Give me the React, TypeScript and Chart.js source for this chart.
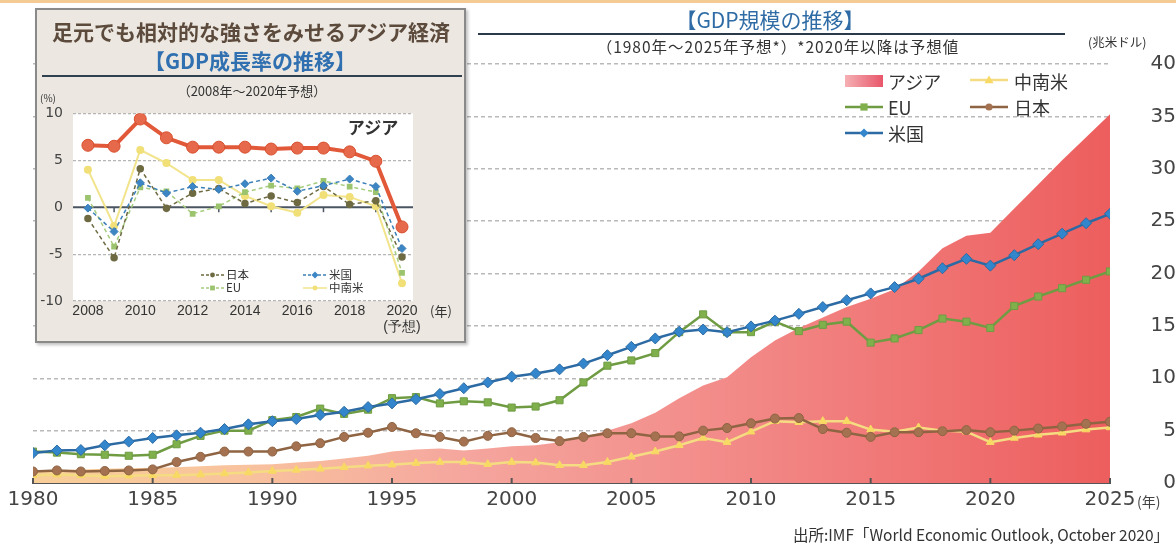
import React, { useEffect, useRef } from 'react';
import { Chart, registerables } from 'chart.js';

Chart.register(...registerables);

// ---------- Main chart data (trillion USD) ----------
const YEARS = [
  1980, 1981, 1982, 1983, 1984, 1985, 1986, 1987, 1988, 1989,
  1990, 1991, 1992, 1993, 1994, 1995, 1996, 1997, 1998, 1999,
  2000, 2001, 2002, 2003, 2004, 2005, 2006, 2007, 2008, 2009,
  2010, 2011, 2012, 2013, 2014, 2015, 2016, 2017, 2018, 2019,
  2020, 2021, 2022, 2023, 2024, 2025,
];
const ASIA_GDP = [
  1.2, 1.25, 1.3, 1.35, 1.4, 1.45, 1.5, 1.6, 1.7, 1.75,
  1.8, 1.95, 2.1, 2.35, 2.6, 3.0, 3.2, 3.3, 3.1, 3.3,
  3.5, 3.6, 3.9, 4.4, 5.0, 5.7, 6.7, 8.1, 9.3, 10.1,
  12.0, 13.6, 14.8, 15.8, 16.8, 17.6, 18.5, 20.2, 22.4, 23.6,
  23.9, 26.2, 28.5, 30.8, 33.0, 35.2,
];
const US_GDP = [
  2.86, 3.1, 3.15, 3.6, 3.95, 4.3, 4.55, 4.8, 5.15, 5.6,
  5.9, 6.1, 6.5, 6.8, 7.25, 7.6, 8.0, 8.5, 9.05, 9.6,
  10.15, 10.45, 10.85, 11.4, 12.2, 13.0, 13.8, 14.45, 14.65, 14.4,
  14.95, 15.5, 16.15, 16.8, 17.45, 18.1, 18.7, 19.5, 20.5, 21.4,
  20.75, 21.75, 22.8, 23.8, 24.8, 25.7,
];
const EU_GDP = [
  3.0, 2.9, 2.75, 2.7, 2.6, 2.7, 3.7, 4.5, 5.0, 5.0,
  6.0, 6.3, 7.1, 6.6, 7.0, 8.1, 8.2, 7.6, 7.8, 7.7,
  7.2, 7.3, 7.9, 9.6, 11.2, 11.7, 12.4, 14.4, 16.1, 14.4,
  14.4, 15.4, 14.5, 15.1, 15.4, 13.4, 13.8, 14.6, 15.7, 15.4,
  14.8, 16.9, 17.8, 18.6, 19.4, 20.2,
];
const JAPAN_GDP = [
  1.1, 1.2, 1.1, 1.15, 1.2, 1.3, 2.0, 2.5, 3.0, 3.0,
  3.0, 3.5, 3.8, 4.4, 4.8, 5.35, 4.75, 4.4, 3.95, 4.5,
  4.85, 4.3, 4.0, 4.4, 4.75, 4.75, 4.45, 4.45, 5.0, 5.25,
  5.7, 6.15, 6.2, 5.15, 4.8, 4.4, 4.85, 4.85, 4.95, 5.05,
  4.85, 5.0, 5.2, 5.4, 5.65, 5.85,
];
const LATAM_GDP = [
  0.75, 0.8, 0.75, 0.65, 0.7, 0.75, 0.75, 0.8, 0.9, 1.0,
  1.15, 1.25, 1.35, 1.5, 1.65, 1.75, 1.9, 2.0, 2.0, 1.8,
  2.0, 1.95, 1.7, 1.7, 2.0, 2.5, 3.0, 3.6, 4.3, 3.9,
  4.9, 5.9, 5.8, 5.9, 5.9, 5.1, 4.9, 5.3, 5.0, 4.9,
  3.9, 4.3, 4.6, 4.8, 5.1, 5.3,
];
const MAIN_X_MIN = 1980;
const MAIN_X_MAX = 2025;
const MAIN_X_STEP = 5;
const MAIN_Y_MIN = 0;
const MAIN_Y_MAX = 40;
const MAIN_Y_STEP = 5;

// ---------- Inset chart data (growth %, 2008-2020) ----------
const GROWTH_YEARS = [2008, 2009, 2010, 2011, 2012, 2013, 2014, 2015, 2016, 2017, 2018, 2019, 2020];
const ASIA_GROWTH = [6.6, 6.5, 9.4, 7.4, 6.4, 6.4, 6.4, 6.2, 6.3, 6.3, 5.9, 4.9, -2.1];
const US_GROWTH = [-0.1, -2.6, 2.6, 1.5, 2.2, 1.9, 2.5, 3.1, 1.7, 2.3, 3.0, 2.2, -4.4];
const JAPAN_GROWTH = [-1.2, -5.4, 4.1, -0.1, 1.5, 2.0, 0.4, 1.2, 0.5, 2.2, 0.3, 0.7, -5.3];
const EU_GROWTH = [1.0, -4.2, 2.1, 1.7, -0.7, 0.1, 1.6, 2.3, 2.0, 2.8, 2.2, 1.6, -7.0];
const LATAM_GROWTH = [4.0, -2.0, 6.1, 4.7, 2.9, 2.9, 1.2, 0.1, -0.6, 1.3, 1.1, 0.1, -8.1];
const GROWTH_TICKS = [2008, 2010, 2012, 2014, 2016, 2018, 2020];
const GROWTH_MINOR_TICKS = [2009, 2011, 2013, 2015, 2017, 2019];
const GROWTH_Y_MIN = -10;
const GROWTH_Y_MAX = 10;
const GROWTH_Y_STEP = 5;

const pts = (xs: number[], ys: number[]) => xs.map((x, i) => ({ x, y: ys[i] }));

const C = {
  us: '#2c6aa3',
  usPt: '#3486cc',
  eu: '#6f9c43',
  euPt: '#7fb04c',
  jp: '#8f6443',
  jpPt: '#a47250',
  la: '#f5dc82',
  laPt: '#f7d964',
};

type TxtProps = {
  x: number; y: number; size: number; color?: string; weight?: number;
  anchor?: 'left' | 'center' | 'right'; family?: string; children: React.ReactNode; ls?: number;
};
const Txt = ({ x, y, size, color = '#333', weight = 400, anchor = 'left', family, children, ls }: TxtProps) => (
  <div
    style={{
      position: 'absolute', left: x, top: y,
      transform: `translate(${anchor === 'center' ? '-50%' : anchor === 'right' ? '-100%' : '0'}, -50%)`,
      fontSize: size, color, fontWeight: weight, whiteSpace: 'nowrap', lineHeight: 1,
      fontFamily: family || "'Noto Sans CJK JP', 'Noto Sans', sans-serif",
      letterSpacing: ls, zIndex: 5,
    }}
  >
    {children}
  </div>
);

type Marker = 'diamond' | 'square' | 'circle' | 'triangle';
const MarkerShape = ({ m, cx, cy, r, fill }: { m: Marker; cx: number; cy: number; r: number; fill: string }) => {
  if (m === 'diamond') return <polygon points={`${cx},${cy - r} ${cx + r},${cy} ${cx},${cy + r} ${cx - r},${cy}`} fill={fill} />;
  if (m === 'square') return <rect x={cx - r * 0.8} y={cy - r * 0.8} width={r * 1.6} height={r * 1.6} fill={fill} />;
  if (m === 'triangle') return <polygon points={`${cx},${cy - r} ${cx + r},${cy + r * 0.7} ${cx - r},${cy + r * 0.7}`} fill={fill} />;
  return <circle cx={cx} cy={cy} r={r * 0.8} fill={fill} />;
};

const LineSwatch = ({ x, y, w, color, m, mColor, r = 4.5, dash, lw = 2.5 }:
  { x: number; y: number; w: number; color: string; m: Marker; mColor: string; r?: number; dash?: string; lw?: number }) => (
  <svg style={{ position: 'absolute', left: x, top: y - 7, zIndex: 5 }} width={w} height={14}>
    <line x1={0} y1={7} x2={w} y2={7} stroke={color} strokeWidth={lw} strokeDasharray={dash} />
    <MarkerShape m={m} cx={w / 2} cy={7} r={r} fill={mColor} />
  </svg>
);

export default function App() {
  const mainRef = useRef<HTMLCanvasElement>(null);
  const insetRef = useRef<HTMLCanvasElement>(null);

  useEffect(() => {
    const axisFont = { family: "'DejaVu Sans', sans-serif", size: 20 };

    const xTickMarks = {
      id: 'xTickMarks',
      afterDatasetsDraw(chart: any) {
        const { ctx, scales } = chart;
        const xs = scales.x;
        const bottom = chart.chartArea.bottom;
        ctx.save();
        ctx.strokeStyle = '#555';
        ctx.lineWidth = 2;
        xs.ticks.forEach((t: any) => {
          const px = xs.getPixelForValue(t.value);
          ctx.beginPath();
          ctx.moveTo(px, bottom);
          ctx.lineTo(px, bottom - 5);
          ctx.stroke();
        });
        ctx.restore();
      },
    };

    const main = new Chart(mainRef.current!, {
      type: 'line',
      data: {
        datasets: [
          {
            label: '米国', data: pts(YEARS, US_GDP), borderColor: C.us, borderWidth: 2.5,
            pointStyle: 'rectRot', pointRadius: 5.5, pointBackgroundColor: C.usPt, pointBorderColor: C.us, pointBorderWidth: 1,
          },
          {
            label: 'EU', data: pts(YEARS, EU_GDP), borderColor: C.eu, borderWidth: 2.5,
            pointStyle: 'rect', pointRadius: 5, pointBackgroundColor: C.euPt, pointBorderColor: C.eu, pointBorderWidth: 1,
          },
          {
            label: '日本', data: pts(YEARS, JAPAN_GDP), borderColor: C.jp, borderWidth: 2.5,
            pointStyle: 'circle', pointRadius: 4.5, pointBackgroundColor: C.jpPt, pointBorderColor: C.jp, pointBorderWidth: 1,
          },
          {
            label: '中南米', data: pts(YEARS, LATAM_GDP), borderColor: C.la, borderWidth: 2.5,
            pointStyle: 'triangle', pointRadius: 4.5, pointBackgroundColor: C.laPt, pointBorderColor: C.laPt, pointBorderWidth: 1,
          },
          {
            label: 'アジア', data: pts(YEARS, ASIA_GDP), borderWidth: 0, pointRadius: 0, fill: 'origin',
            backgroundColor: (c: any) => {
              const { ctx, chartArea } = c.chart;
              if (!chartArea) return '#f28a85';
              const g = ctx.createLinearGradient(chartArea.left, 0, chartArea.right, 0);
              g.addColorStop(0, '#f9cf98');
              g.addColorStop(0.2, '#f8c29e');
              g.addColorStop(0.4, '#f5a69e');
              g.addColorStop(0.65, '#f28a88');
              g.addColorStop(1, '#ed5e5e');
              return g;
            },
          },
        ],
      },
      options: {
        responsive: false,
        animation: false,
        devicePixelRatio: 1,
        layout: { padding: { left: 33, top: 64, right: 0, bottom: 0 } },
        plugins: { legend: { display: false }, tooltip: { enabled: false } },
        elements: { line: { tension: 0 } },
        scales: {
          x: {
            type: 'linear', min: MAIN_X_MIN, max: MAIN_X_MAX,
            afterFit: (s: any) => { s.height = 64; },
            ticks: {
              stepSize: MAIN_X_STEP, autoSkip: false, maxRotation: 0, padding: 5,
              color: '#444', font: axisFont, callback: (v: any) => String(v),
            },
            grid: { display: false, drawTicks: false },
            border: { display: true, color: '#555', width: 2 },
          },
          y: {
            position: 'right', min: MAIN_Y_MIN, max: MAIN_Y_MAX,
            afterFit: (s: any) => { s.width = 66; },
            ticks: {
              stepSize: MAIN_Y_STEP, crossAlign: 'far', padding: 22,
              color: '#444', font: axisFont, callback: (v: any) => String(v),
            },
            grid: {
              drawTicks: false, lineWidth: 1.5,
              color: (c: any) => (c.tick && c.tick.value === 0 ? 'rgba(0,0,0,0)' : '#b9b9b9'),
            },
            border: { display: false, dash: [4, 3] },
          },
        },
      },
      plugins: [xTickMarks],
    } as any);

    const insetPlugin = {
      id: 'insetDecor',
      beforeDraw(chart: any) {
        const { ctx, chartArea } = chart;
        ctx.save();
        ctx.fillStyle = '#ffffff';
        ctx.fillRect(chartArea.left, chartArea.top, chartArea.right - chartArea.left, chartArea.bottom - chartArea.top);
        ctx.restore();
      },
      beforeDatasetsDraw(chart: any) {
        const { ctx, chartArea, scales } = chart;
        const y0 = scales.y.getPixelForValue(0);
        ctx.save();
        ctx.strokeStyle = '#4a5561';
        ctx.lineWidth = 2;
        ctx.beginPath();
        ctx.moveTo(chartArea.left, y0);
        ctx.lineTo(chartArea.right, y0);
        ctx.stroke();
        ctx.lineWidth = 1.5;
        GROWTH_MINOR_TICKS.forEach((yr) => {
          const px = scales.x.getPixelForValue(yr);
          ctx.beginPath();
          ctx.moveTo(px, y0);
          ctx.lineTo(px, y0 + 5);
          ctx.stroke();
        });
        ctx.restore();
      },
    };

    const inset = new Chart(insetRef.current!, {
      type: 'line',
      data: {
        datasets: [
          {
            label: 'アジア', data: pts(GROWTH_YEARS, ASIA_GROWTH), borderColor: '#e2593a', borderWidth: 4,
            pointRadius: 6, pointBackgroundColor: '#e6694b', pointBorderColor: '#d8502f', pointBorderWidth: 1,
          },
          {
            label: '米国', data: pts(GROWTH_YEARS, US_GROWTH), borderColor: '#3b7fb8', borderWidth: 1.5, borderDash: [4, 3],
            pointStyle: 'rectRot', pointRadius: 4, pointBackgroundColor: '#3d86c6', pointBorderColor: '#3b7fb8', pointBorderWidth: 1,
          },
          {
            label: '日本', data: pts(GROWTH_YEARS, JAPAN_GROWTH), borderColor: '#6e6a42', borderWidth: 1.5, borderDash: [4, 3],
            pointRadius: 3, pointBackgroundColor: '#6e6a42', pointBorderColor: '#6e6a42',
          },
          {
            label: 'EU', data: pts(GROWTH_YEARS, EU_GROWTH), borderColor: '#a6cd7e', borderWidth: 1.5, borderDash: [4, 3],
            pointStyle: 'rect', pointRadius: 3, pointBackgroundColor: '#9cc46e', pointBorderColor: '#9cc46e',
          },
          {
            label: '中南米', data: pts(GROWTH_YEARS, LATAM_GROWTH), borderColor: '#f2e48c', borderWidth: 2,
            pointRadius: 3, pointBackgroundColor: '#f1df78', pointBorderColor: '#f1df78',
          },
        ],
      },
      options: {
        responsive: false,
        animation: false,
        devicePixelRatio: 1,
        layout: { padding: { left: 0, top: 13, right: 51, bottom: 0 } },
        plugins: { legend: { display: false }, tooltip: { enabled: false } },
        elements: { line: { tension: 0 } },
        scales: {
          x: {
            type: 'linear', min: 2007.43, max: 2020.42,
            afterFit: (s: any) => { s.height = 39; },
            afterBuildTicks: (s: any) => { s.ticks = GROWTH_TICKS.map((v) => ({ value: v })); },
            ticks: {
              autoSkip: false, maxRotation: 0, padding: 2, color: '#333',
              font: { family: "'Liberation Sans Narrow', 'Liberation Sans', sans-serif", size: 14, lineHeight: 1.15 },
              callback: (v: any) => (v === 2020 ? ['2020', '(予想)'] : String(v)),
            },
            grid: { display: false, drawTicks: false },
            border: { display: false },
          },
          y: {
            position: 'left', min: GROWTH_Y_MIN, max: GROWTH_Y_MAX,
            afterFit: (s: any) => { s.width = 37; },
            ticks: {
              stepSize: GROWTH_Y_STEP, padding: 10, color: '#444',
              font: { family: "'DejaVu Sans', sans-serif", size: 14 },
              callback: (v: any) => String(v),
            },
            grid: {
              drawTicks: false, lineWidth: 1.2,
              color: (c: any) => (c.tick && c.tick.value === 0 ? 'rgba(0,0,0,0)' : '#b5b5b5'),
            },
            border: { display: false, dash: [3, 2] },
          },
        },
      },
      plugins: [insetPlugin],
    } as any);

    return () => {
      main.destroy();
      inset.destroy();
    };
  }, []);

  return (
    <div
      style={{
        position: 'fixed', left: 0, top: 0, width: 1176, height: 547, background: '#ffffff', overflow: 'hidden',
        fontFamily: "'Noto Sans CJK JP', sans-serif",
      }}
    >
      <div style={{ position: 'absolute', left: 0, top: 0, width: 1176, height: 3, background: '#f4cb92' }} />
      <canvas ref={mainRef} width={1176} height={547} style={{ position: 'absolute', left: 0, top: 0, width: 1176, height: 547 }} />

      {/* Main title block */}
      <Txt x={770} y={19} size={21} color="#2f6ca5" weight={400} anchor="center">【GDP規模の推移】</Txt>
      <div style={{ position: 'absolute', left: 478, top: 33, width: 587, height: 2, background: '#2b3a4a', zIndex: 5 }} />
      <Txt x={778} y={47} size={15.5} color="#333" anchor="center" ls={1}>（1980年～2025年予想*）*2020年以降は予想値</Txt>
      <Txt x={1088} y={42} size={12.5} color="#333">(兆米ドル)</Txt>

      {/* Main legend */}
      <div style={{ position: 'absolute', left: 845, top: 75, width: 38, height: 12, background: 'linear-gradient(90deg, #f5b0b4, #e8566a)', zIndex: 5 }} />
      <Txt x={888} y={81} size={18} color="#333">アジア</Txt>
      <LineSwatch x={970} y={80} w={38} color={C.la} m="triangle" mColor={C.laPt} />
      <Txt x={1014} y={81} size={18} color="#333">中南米</Txt>
      <LineSwatch x={845} y={107} w={38} color={C.eu} m="square" mColor={C.euPt} />
      <Txt x={888} y={107} size={18} color="#333">EU</Txt>
      <LineSwatch x={970} y={107} w={38} color={C.jp} m="circle" mColor={C.jpPt} />
      <Txt x={1014} y={107} size={18} color="#333">日本</Txt>
      <LineSwatch x={845} y={133} w={38} color={C.us} m="diamond" mColor={C.usPt} />
      <Txt x={888} y={133} size={18} color="#333">米国</Txt>

      <Txt x={1137} y={501} size={14} color="#444">(年)</Txt>
      <Txt x={1169} y={535} size={15.5} color="#333" anchor="right">出所:IMF「World Economic Outlook, October 2020」</Txt>

      {/* Inset box */}
      <div
        style={{
          position: 'absolute', left: 35, top: 8, width: 431, height: 335, boxSizing: 'border-box',
          background: '#ece8e1', border: '2px solid #8a8a8a', boxShadow: '2px 2px 3px rgba(0,0,0,0.25)', zIndex: 3,
        }}
      />
      <canvas ref={insetRef} width={428} height={245} style={{ position: 'absolute', left: 36, top: 95, width: 428, height: 245, zIndex: 4 }} />
      <Txt x={251} y={31} size={21} color="#5c4b3c" weight={700} anchor="center">足元でも相対的な強さをみせるアジア経済</Txt>
      <Txt x={250} y={60} size={21} color="#3070b0" weight={700} anchor="center">【GDP成長率の推移】</Txt>
      <div style={{ position: 'absolute', left: 42, top: 75, width: 420, height: 2, background: '#2f4050', zIndex: 5 }} />
      <Txt x={252} y={90} size={13} color="#333" anchor="center">（2008年～2020年予想）</Txt>
      <Txt x={40} y={98} size={10} color="#333">(%)</Txt>
      <Txt x={373} y={126} size={17} color="#333" weight={700} anchor="center">アジア</Txt>

      {/* Inset legend */}
      <LineSwatch x={201} y={275} w={23} color="#6e6a42" m="circle" mColor="#6e6a42" r={3} dash="3,2" lw={1.3} />
      <Txt x={226} y={275} size={11.5} color="#333">日本</Txt>
      <LineSwatch x={303} y={275} w={24} color="#3b7fb8" m="diamond" mColor="#3d86c6" r={3.5} dash="3,2" lw={1.3} />
      <Txt x={329} y={275} size={11.5} color="#333">米国</Txt>
      <LineSwatch x={201} y={288} w={23} color="#a6cd7e" m="square" mColor="#9cc46e" r={3} dash="3,2" lw={1.3} />
      <Txt x={226} y={288} size={11.5} color="#333">EU</Txt>
      <LineSwatch x={303} y={288} w={24} color="#f2e48c" m="circle" mColor="#f1df78" r={3} lw={1.5} />
      <Txt x={329} y={288} size={11.5} color="#333">中南米</Txt>
      <Txt x={430} y={310} size={13} color="#333">(年)</Txt>
    </div>
  );
}
